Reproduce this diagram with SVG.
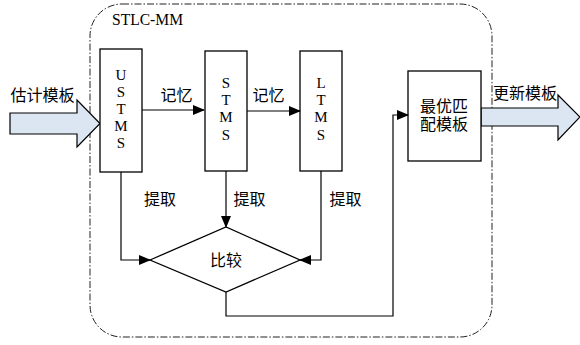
<svg xmlns="http://www.w3.org/2000/svg" width="580" height="345" viewBox="0 0 580 345">
<style>
.box{fill:#fff;stroke:#000;stroke-width:1.3}
.ln{fill:none;stroke:#000;stroke-width:1.2}
.blk{fill:#dce6f2;stroke:#000;stroke-width:1.2}
.t{font-family:"Liberation Serif","Noto Sans CJK SC",serif;font-size:16px;fill:#000}
.v{font-family:"Liberation Serif",serif;font-size:15px;fill:#000;text-anchor:middle}
.c{text-anchor:middle}
</style>
<defs>
<marker id="ah" markerWidth="12" markerHeight="10" refX="11" refY="5" orient="auto" markerUnits="userSpaceOnUse">
<path d="M0,0 L12,5 L0,10 Z" fill="#000"/>
</marker>
</defs>
<rect width="580" height="345" fill="#fff"/>
<g id="frame">
<rect x="90" y="4" width="402" height="333" rx="32" ry="32" fill="none" stroke="#222" stroke-width="1" stroke-dasharray="7 2 1.5 2"/>
<text class="t" x="112" y="25" font-size="17" textLength="71" lengthAdjust="spacingAndGlyphs">STLC-MM</text>
</g>
<g id="input">
<path class="blk" d="M10,113 H77 V100 L100,123.5 L77,147 V134 H10 Z"/>
<text class="t c" x="42.5" y="101">估计模板</text>
</g>
<g id="output">
<path class="blk" d="M481,108 H558 V95 L580,117 L558,140 V126 H481 Z"/>
<text class="t c" x="525" y="99">更新模板</text>
</g>
<g id="ustms">
<rect class="box" x="100" y="49" width="42" height="123"/>
<text class="v" x="121" y="80">U</text>
<text class="v" x="121" y="97">S</text>
<text class="v" x="121" y="114">T</text>
<text class="v" x="121" y="131">M</text>
<text class="v" x="121" y="148">S</text>
</g>
<g id="stms">
<rect class="box" x="205" y="51" width="42" height="120"/>
<text class="v" x="226" y="88">S</text>
<text class="v" x="226" y="105">T</text>
<text class="v" x="226" y="122">M</text>
<text class="v" x="226" y="140">S</text>
</g>
<g id="ltms">
<rect class="box" x="300" y="51" width="42" height="120"/>
<text class="v" x="321" y="88">L</text>
<text class="v" x="321" y="105">T</text>
<text class="v" x="321" y="122">M</text>
<text class="v" x="321" y="140">S</text>
</g>
<g id="best">
<rect class="box" x="408" y="71" width="73" height="90"/>
<text class="t c" x="444" y="112" font-size="17">最优匹</text>
<text class="t c" x="444" y="130" font-size="17">配模板</text>
</g>
<g id="compare">
<polygon class="box" points="150,260 226,227 300,260 226,292"/>
<text class="t c" x="226" y="266">比较</text>
</g>
<g id="connectors">
<path class="ln" d="M142,110 H204" marker-end="url(#ah)"/>
<path class="ln" d="M247,111 H300" marker-end="url(#ah)"/>
<path class="ln" d="M121,172 V260 H150" marker-end="url(#ah)"/>
<path class="ln" d="M226,171 V227" marker-end="url(#ah)"/>
<path class="ln" d="M321,171 V260 H300" marker-end="url(#ah)"/>
<path class="ln" d="M226,292 V316 H393 V115 H408" marker-end="url(#ah)"/>
<text class="t c" x="176.5" y="101">记忆</text>
<text class="t c" x="268.5" y="101">记忆</text>
<text class="t c" x="160" y="205">提取</text>
<text class="t c" x="249.5" y="205">提取</text>
<text class="t c" x="345.5" y="205">提取</text>
</g>
</svg>
